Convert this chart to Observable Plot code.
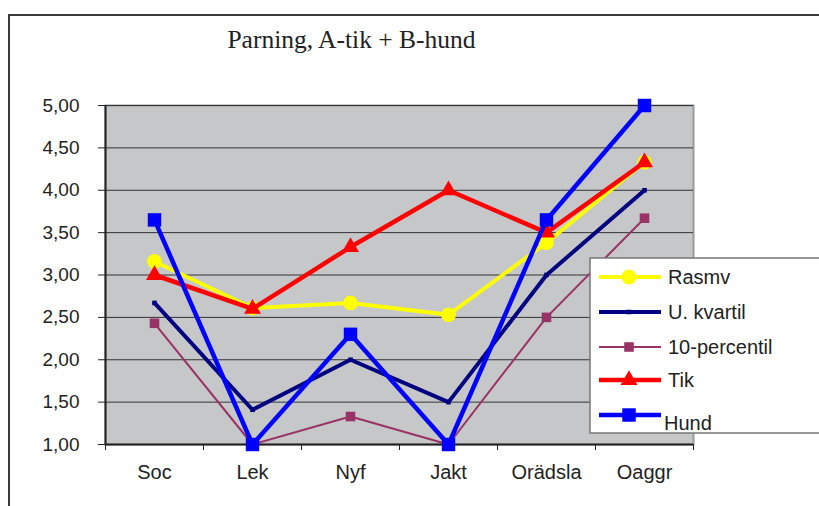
<!DOCTYPE html>
<html>
<head>
<meta charset="utf-8">
<script src="https://cdn.jsdelivr.net/npm/d3@7"></script>
<script src="https://cdn.jsdelivr.net/npm/@observablehq/plot@0.6"></script>
<style>
  body { margin: 0; background: #fff; }
  #wrap { position: relative; width: 819px; height: 506px; overflow: hidden; background: #fff;
          font-family: "Liberation Sans", Arial, sans-serif; }
  #border { position: absolute; left: 8px; top: 14px; width: 900px; height: 600px;
            border-left: 2px solid #3a3a3a; border-top: 2px solid #3a3a3a; }
  #chart { position: absolute; left: 0; top: 0; }
  #title { position: absolute; left: 0; width: 703px; top: 26px; text-align: center; line-height: 1.1;
           font-family: "Liberation Serif", "Times New Roman", serif; font-size: 25.5px; color: #222; }
  #legend { position: absolute; left: 589px; top: 257px; }
</style>
</head>
<body>
<div id="wrap">
  <div id="border"></div>
  <div id="chart"></div>
  <div id="title">Parning, A-tik + B-hund</div>
  <div id="legend"></div>
</div>
<script>
// ---- data ----
const categories = ["Soc", "Lek", "Nyf", "Jakt", "Orädsla", "Oaggr"];
const rasmv       = [3.16, 2.61, 2.67, 2.53, 3.38, 4.33];
const uKvartil    = [2.67, 1.41, 2.00, 1.50, 3.00, 4.00];
const percentil10 = [2.43, 1.00, 1.33, 1.00, 2.50, 3.67];
const tik         = [3.00, 2.60, 3.33, 4.00, 3.50, 4.33];
const hund        = [3.65, 1.00, 2.30, 1.00, 3.65, 5.00];
const seriesNames = ["Rasmv", "U. kvartil", "10-percentil", "Tik", "Hund"];
const yTicks = [1.0, 1.5, 2.0, 2.5, 3.0, 3.5, 4.0, 4.5, 5.0];

// ---- styles ----
const seriesValues = [rasmv, uKvartil, percentil10, tik, hund];
const styles = [
  {color: "#ffff00", width: 4,   symbol: "circle",   r: 7.4},
  {color: "#000080", width: 4,   symbol: "square",   r: 2.6},
  {color: "#993366", width: 2,   symbol: "square",   r: 5.4},
  {color: "#ff0000", width: 4.5, symbol: "triangle", r: 6.3},
  {color: "#0000ff", width: 4.5, symbol: "square",   r: 7.6}
];

const idx = categories.map((_, i) => i);
const bounds = categories.map((_, i) => i - 0.5).concat([categories.length - 0.5]);

const seriesMarks = [];
seriesValues.forEach((vals, s) => {
  const st = styles[s];
  seriesMarks.push(Plot.lineY(vals, {x: (d, i) => i, y: d => d, stroke: st.color, strokeWidth: st.width}));
  seriesMarks.push(Plot.dot(vals, {x: (d, i) => i, y: d => d, symbol: st.symbol, r: st.r, fill: st.color, stroke: "none"}));
});

const chart = Plot.plot({
  width: 819, height: 506,
  marginLeft: 105, marginRight: 126, marginTop: 105, marginBottom: 62,
  x: {domain: [-0.5, categories.length - 0.5]},
  y: {domain: [1, 5]},
  style: {background: "transparent", fontFamily: "'Liberation Sans', Arial, sans-serif", color: "#222", overflow: "visible"},
  marks: [
    Plot.frame({fill: "#c6c7c9", stroke: "#9a9a9a", strokeWidth: 2}),
    Plot.gridY(yTicks, {stroke: "#333", strokeOpacity: 1, strokeWidth: 1}),
    Plot.axisY(yTicks, {tickSize: 7, tickPadding: 19, label: null, fontSize: 19,
      tickFormat: d => d.toFixed(2).replace(".", ",")}),
    Plot.axisX(bounds, {tickSize: 6, label: null, tickFormat: () => ""}),
    Plot.axisX(idx, {tickSize: 0, tickPadding: 20, label: null, fontSize: 20,
      tickFormat: i => categories[i]}),
    Plot.ruleX([-0.5], {stroke: "#222", strokeWidth: 2}),
    Plot.ruleY([1], {stroke: "#222", strokeWidth: 2}),
    ...seriesMarks
  ]
});
document.getElementById("chart").appendChild(chart);

// ---- legend ----
const lg = d3.select("#legend").append("svg").attr("width", 240).attr("height", 180);
lg.append("rect").attr("x", 1).attr("y", 1).attr("width", 260).attr("height", 175)
  .attr("fill", "#fff").attr("stroke", "#777").attr("stroke-width", 1.5);
const rowY = [20, 55, 90, 123, 158];
const textY = [20, 55, 90, 123, 166];
const symMap = {circle: d3.symbolCircle, square: d3.symbolSquare, triangle: d3.symbolTriangle};
seriesNames.forEach((name, s) => {
  const st = styles[s];
  const g = lg.append("g");
  g.append("line").attr("x1", 10).attr("x2", 72).attr("y1", rowY[s]).attr("y2", rowY[s])
    .attr("stroke", st.color).attr("stroke-width", st.width);
  g.append("path").attr("transform", `translate(40,${rowY[s]})`)
    .attr("d", d3.symbol(symMap[st.symbol], Math.PI * st.r * st.r)()).attr("fill", st.color);
  g.append("text").attr("x", s === 4 ? 75 : 79).attr("y", textY[s]).attr("dy", "0.35em")
    .attr("font-size", 20).attr("fill", "#222")
    .attr("font-family", "'Liberation Sans', Arial, sans-serif").text(name);
});
</script>
</body>
</html>
